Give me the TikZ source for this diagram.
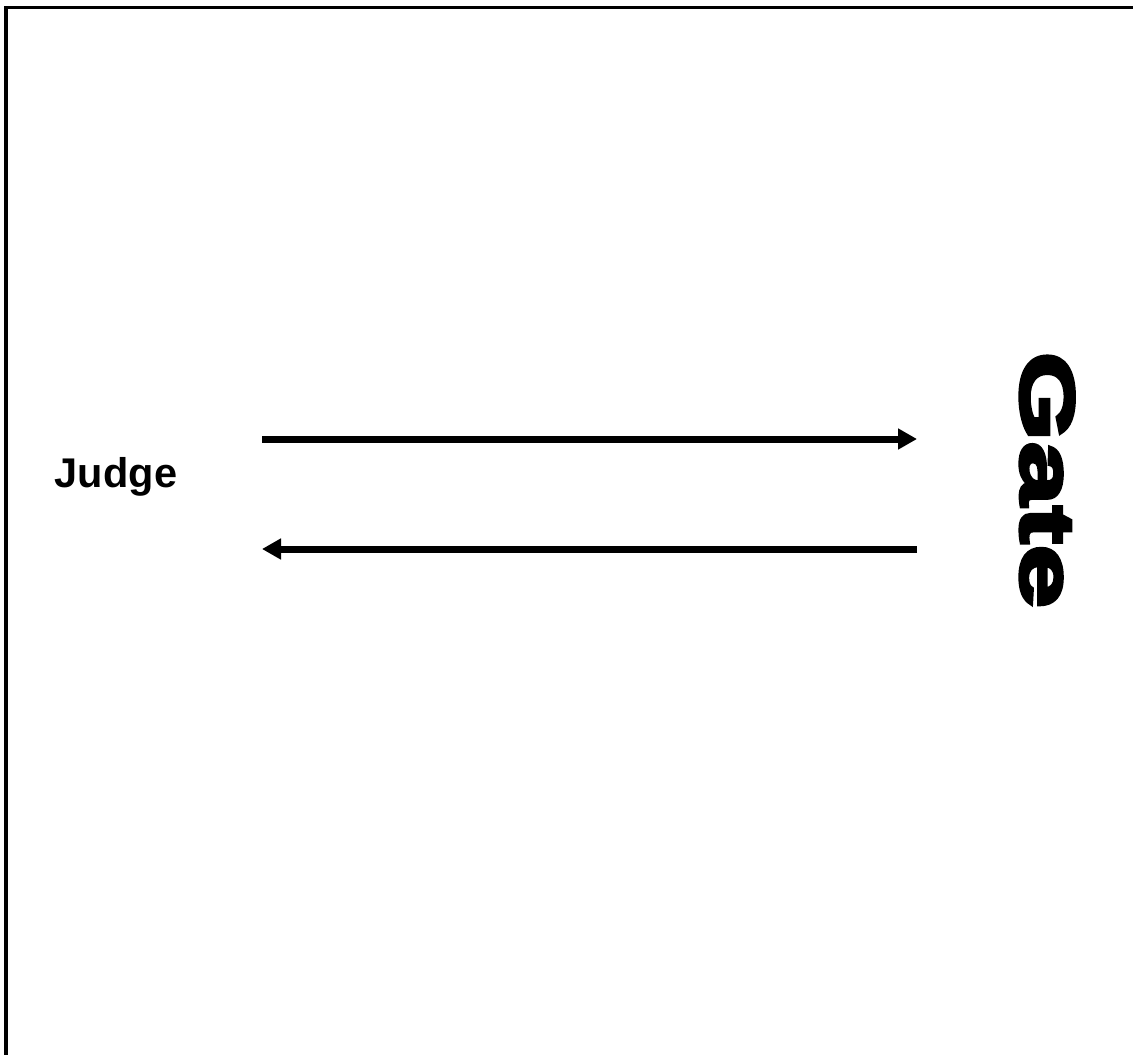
\documentclass[tikz,border=0pt]{standalone}
\usepackage{fontspec}
\setmainfont{Liberation Sans}
\newfontfamily\judgefont{Liberation Sans Bold}
\newfontfamily\gatefont[FakeBold=5,FakeStretch=1.52]{Liberation Sans Bold}
\usetikzlibrary{arrows.meta}
\begin{document}
\begin{tikzpicture}[x=1pt,y=-1pt,
  frame/.style={line width=3.2pt},
  flow/.style={line width=7pt,-{Triangle[length=19pt,width=20pt]}},
  lbl/.style={inner sep=0pt,anchor=base}]
\useasboundingbox (0,0) rectangle (1133,1055);
\draw[frame] (6,1055) -- (6,7.5) -- (1133,7.5);
\node[lbl,font=\judgefont\fontsize{41.5}{46}\selectfont] (judge) at (116,487) {Judge};
\node[lbl,rotate=-90,font=\gatefont\fontsize{76}{80}\selectfont] (gate) at (1021,480) {Gate};
\coordinate (a1s) at (262,439);
\coordinate (a1e) at (917,439);
\coordinate (a2s) at (917,549);
\coordinate (a2e) at (262,549);
\draw[flow] (a1s) -- (a1e);
\draw[flow] (a2s) -- (a2e);
\end{tikzpicture}
\end{document}
